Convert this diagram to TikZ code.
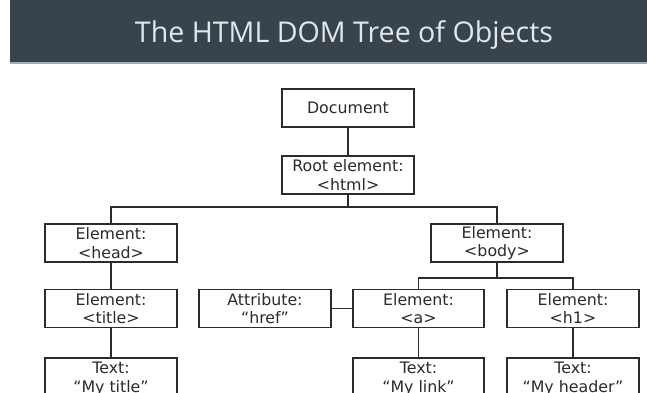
\documentclass[tikz,border=0pt]{standalone}
\usepackage{fontspec}
\setmainfont{DejaVu Sans}
\newfontfamily\titlefont{Open Sans}
\definecolor{barslate}{HTML}{38444D}
\definecolor{barline}{HTML}{A3ADB3}
\definecolor{titletext}{HTML}{E4E6E8}
\definecolor{inkgray}{HTML}{2B2B2B}
\tikzset{
  dombox/.style={draw=inkgray, line width=1.4pt, fill=white, rectangle,
    minimum width=132pt, minimum height=38pt, inner sep=0pt,
    align=center, text=inkgray,
    font=\fontsize{15.8}{18.5}\selectfont},
  leafbox/.style={dombox, minimum height=42pt},
  link/.style={draw=inkgray, line width=1.4pt}
}
\begin{document}
\begin{tikzpicture}[x=1pt, y=-1pt]
  \useasboundingbox (0,0) rectangle (647,392);
  \clip (0,0) rectangle (647,392);

  % heading bar
  \fill[barslate] (10,0) rectangle (647,62);
  \fill[barline] (10,62) rectangle (647,63.5);
  \node[text=titletext, font=\titlefont\fontsize{28.6}{34}\selectfont,
        inner sep=0pt, anchor=base] (heading) at (344,42)
        {The HTML DOM Tree of Objects};

  % tree nodes
  \node[dombox] (doc)    at (348,108)   {Document};
  \node[dombox] (root)   at (348,175)   {Root element:\\<html>};
  \node[dombox] (head)   at (111,243)   {Element:\\<head>};
  \node[dombox] (body)   at (497,243)   {Element:\\<body>};
  \node[dombox] (title)  at (111,308.5) {Element:\\<title>};
  \node[dombox] (attr)   at (265,308.5) {Attribute:\\“href”};
  \node[dombox, minimum width=131pt] (anchor) at (418.5,308.5) {Element:\\<a>};
  \node[dombox] (hone)   at (573,308.5) {Element:\\<h1>};
  \node[leafbox] (ttitle) at (111,379)  {Text:\\“My title”};
  \node[leafbox, minimum width=131pt] (tlink) at (418.5,379) {Text:\\“My link”};
  \node[leafbox] (thead)  at (573,379)  {Text:\\“My header”};

  % branch levels
  \coordinate (rootfork) at (348,207);
  \coordinate (bodyfork) at (497,278);

  % connectors
  \draw[link] (doc.south) -- (root.north);
  \draw[link] (root.south) -- (rootfork);
  \draw[link] (head.north) |- (rootfork) -| (body.north);
  \draw[link] (head.south) -- (title.north);
  \draw[link] (title.south) -- (ttitle.north);
  \draw[link] (body.south) -- (bodyfork);
  \draw[link] (anchor.north) |- (bodyfork) -| (hone.north);
  \draw[link] (attr.east) -- (anchor.west);
  \draw[link] (anchor.south) -- (tlink.north);
  \draw[link] (hone.south) -- (thead.north);
\end{tikzpicture}
\end{document}
